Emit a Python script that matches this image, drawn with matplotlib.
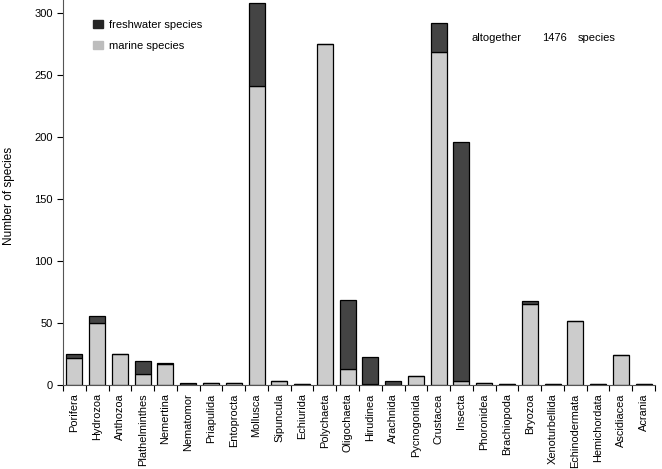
import numpy as np
import matplotlib.pyplot as plt
from matplotlib.patches import Patch

plt.rcParams['font.family'] = ['Liberation Sans', 'DejaVu Sans']

taxa = ['Porifera', 'Hydrozoa', 'Anthozoa', 'Plathelminthes', 'Nemertina', 'Nematomor',
        'Priapulida', 'Entoprocta', 'Mollusca', 'Sipuncula', 'Echiurida', 'Polychaeta',
        'Oligochaeta', 'Hirudinea', 'Arachnida', 'Pycnogonida', 'Crustacea', 'Insecta',
        'Phoronidea', 'Brachiopoda', 'Bryozoa', 'Xenoturbellida', 'Echinodermata',
        'Hemichordata', 'Ascidiacea', 'Acrania']
marine = [22, 50, 25, 9, 17, 0, 2, 2, 241, 3, 1, 275, 13, 1, 0, 7, 269, 3, 2, 1, 65, 1, 52, 1, 24, 1]
freshwater = [3, 6, 0, 10, 1, 2, 0, 0, 67, 0, 0, 0, 56, 22, 3, 0, 23, 193, 0, 0, 3, 0, 0, 0, 0, 0]

light = '#cccccc'
dark = '#444444'

fig = plt.figure(figsize=(6.62, 4.69), dpi=100)
ax = fig.add_axes([63/662, 1 - 385/469, 592/662, 385/469])

x = np.arange(len(taxa)) + 0.5
ax.bar(x, marine, width=0.7, color=light, edgecolor='black', lw=0.9)
ax.bar(x, freshwater, width=0.7, bottom=marine, color=dark, edgecolor='black', lw=0.9)

ax.set_xlim(0, len(taxa))
ax.set_ylim(0, 310.8)

# ticks between categories, labels centred under bars
ax.set_xticks(np.arange(len(taxa) + 1))
ax.set_xticklabels([])
ax.set_xticks(x, minor=True)
ax.set_xticklabels(taxa, minor=True, rotation=90, fontsize=7.9)
ax.tick_params(axis='x', which='minor', length=0, pad=6)
ax.tick_params(axis='x', which='major', length=4, width=0.8)
ax.set_yticks([0, 50, 100, 150, 200, 250, 300])
ax.tick_params(axis='y', length=4, width=0.8, labelsize=8)

for s in ['top', 'right']:
    ax.spines[s].set_visible(False)
for s in ['left', 'bottom']:
    ax.spines[s].set_color('#555555')

ax.set_ylabel('Number of species', fontsize=8.5, va='center')
ax.yaxis.set_label_coords(-0.091, 0.49)

handles = [Patch(color='#262626', label='freshwater species'),
           Patch(color='#bdbdbd', label='marine species')]
ax.legend(handles=handles, loc='upper left', bbox_to_anchor=((93 - 63) / 592, (385 - 20) / 385),
          frameon=False, borderpad=0, borderaxespad=0, fontsize=8,
          handlelength=0.9, handleheight=0.75, handletextpad=0.55, labelspacing=0.95)

total = sum(marine) + sum(freshwater)
ax.text(17.92, 280, 'altogether', fontsize=8, va='center')
ax.text(21.04, 280, str(total), fontsize=8, va='center')
ax.text(22.62, 280, 'species', fontsize=8, va='center')

fig.savefig('out.png', dpi=100)
